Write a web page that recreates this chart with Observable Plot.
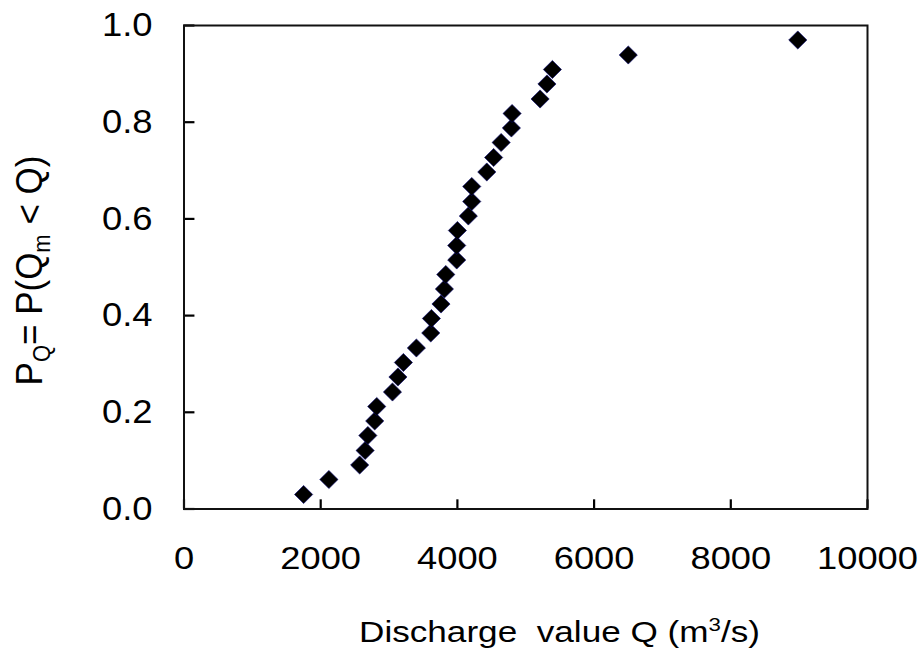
<!DOCTYPE html>
<html><head><meta charset="utf-8">
<script src="https://cdn.jsdelivr.net/npm/d3@7"></script>
<script src="https://cdn.jsdelivr.net/npm/@observablehq/plot@0.6"></script>
<style>body{margin:0;background:#fff}</style>
</head><body><div id="chart"></div>
<script>
const discharge = [1750, 2120, 2570, 2650, 2690, 2790, 2820, 3050, 3130, 3210, 3400, 3610, 3620, 3760, 3810, 3830,
                   3990, 3990, 4000, 4160, 4210, 4210, 4430, 4530, 4640, 4790, 4800, 5210, 5310, 5390, 6500, 8980];
const probability = [0.030, 0.061, 0.091, 0.121, 0.152, 0.182, 0.212, 0.242, 0.273, 0.303, 0.333, 0.364, 0.394, 0.424, 0.455, 0.485,
                     0.515, 0.545, 0.576, 0.606, 0.636, 0.667, 0.697, 0.727, 0.758, 0.788, 0.818, 0.848, 0.879, 0.909, 0.939, 0.970];
const xTicks = [0, 2000, 4000, 6000, 8000, 10000];
const yTicks = [0, 0.2, 0.4, 0.6, 0.8, 1.0];
const data = discharge.map((q, i) => ({q, p: probability[i]}));
const FONT = "'Liberation Sans', Arial, sans-serif";

const chart = Plot.plot({
  width: 919, height: 650,
  marginLeft: 183.5, marginRight: 52, marginTop: 25, marginBottom: 141.5,
  style: {fontFamily: FONT, background: "#fff", color: "#000"},
  x: {domain: [0, 10000], label: null},
  y: {domain: [0, 1], label: null},
  marks: [
    Plot.axisX(xTicks, {tickSize: 0, tickPadding: 38, fontSize: 31, tickFormat: d => String(d), label: null}),
    Plot.axisY(yTicks, {tickSize: 0, tickPadding: 31.5, fontSize: 34, tickFormat: d => d.toFixed(1), label: null}),
    Plot.ruleX(xTicks, {x: d => d, y1: 0, y2: 0.019, stroke: "#000", strokeWidth: 2.2}),
    Plot.ruleY(yTicks, {y: d => d, x1: 0, x2: 160, stroke: "#000", strokeWidth: 2.2}),
    Plot.frame({stroke: "#111", strokeWidth: 2}),
    Plot.dot(data, {x: "q", y: "p", symbol: "diamond2", r: 8.2, fill: "#000", stroke: "#000070", strokeWidth: 0.6})
  ]
});
document.getElementById("chart").appendChild(chart);

const svg = d3.select(chart);
// widen tick labels horizontally to match the reference's stretched lettering
function stretch(sel, k) {
  sel.each(function() {
    const w = this.getComputedTextLength();
    d3.select(this).attr("textLength", w * k).attr("lengthAdjust", "spacingAndGlyphs");
  });
}
stretch(svg.selectAll('g[aria-label="x-axis tick label"] text'), 1.17);
stretch(svg.selectAll('g[aria-label="y-axis tick label"] text'), 1.07);

const xt = svg.append("text")
  .attr("x", 359).attr("y", 642).attr("text-anchor", "start")
  .attr("xml:space", "preserve").style("white-space", "pre")
  .style("font-size", "30px").style("font-family", FONT).attr("fill", "#000")
  .attr("textLength", 401).attr("lengthAdjust", "spacingAndGlyphs");
xt.append("tspan").text("Discharge  value Q (m");
xt.append("tspan").attr("dy", -11).style("font-size", "19px").text("3");
xt.append("tspan").attr("dy", 11).text("/s)");

const yt = svg.append("text")
  .attr("transform", "translate(42,270.5) rotate(-90) scale(1,1.05)").attr("text-anchor", "middle")
  .attr("xml:space", "preserve").style("white-space", "pre")
  .style("font-size", "35px").style("font-family", FONT).attr("fill", "#000");
yt.append("tspan").text("P");
yt.append("tspan").attr("dy", 8).style("font-size", "22px").text("Q");
yt.append("tspan").attr("dy", -8).text("= P(Q");
yt.append("tspan").attr("dy", 8).style("font-size", "22px").text("m");
yt.append("tspan").attr("dy", -8).text(" < Q)");
</script>
</body></html>
